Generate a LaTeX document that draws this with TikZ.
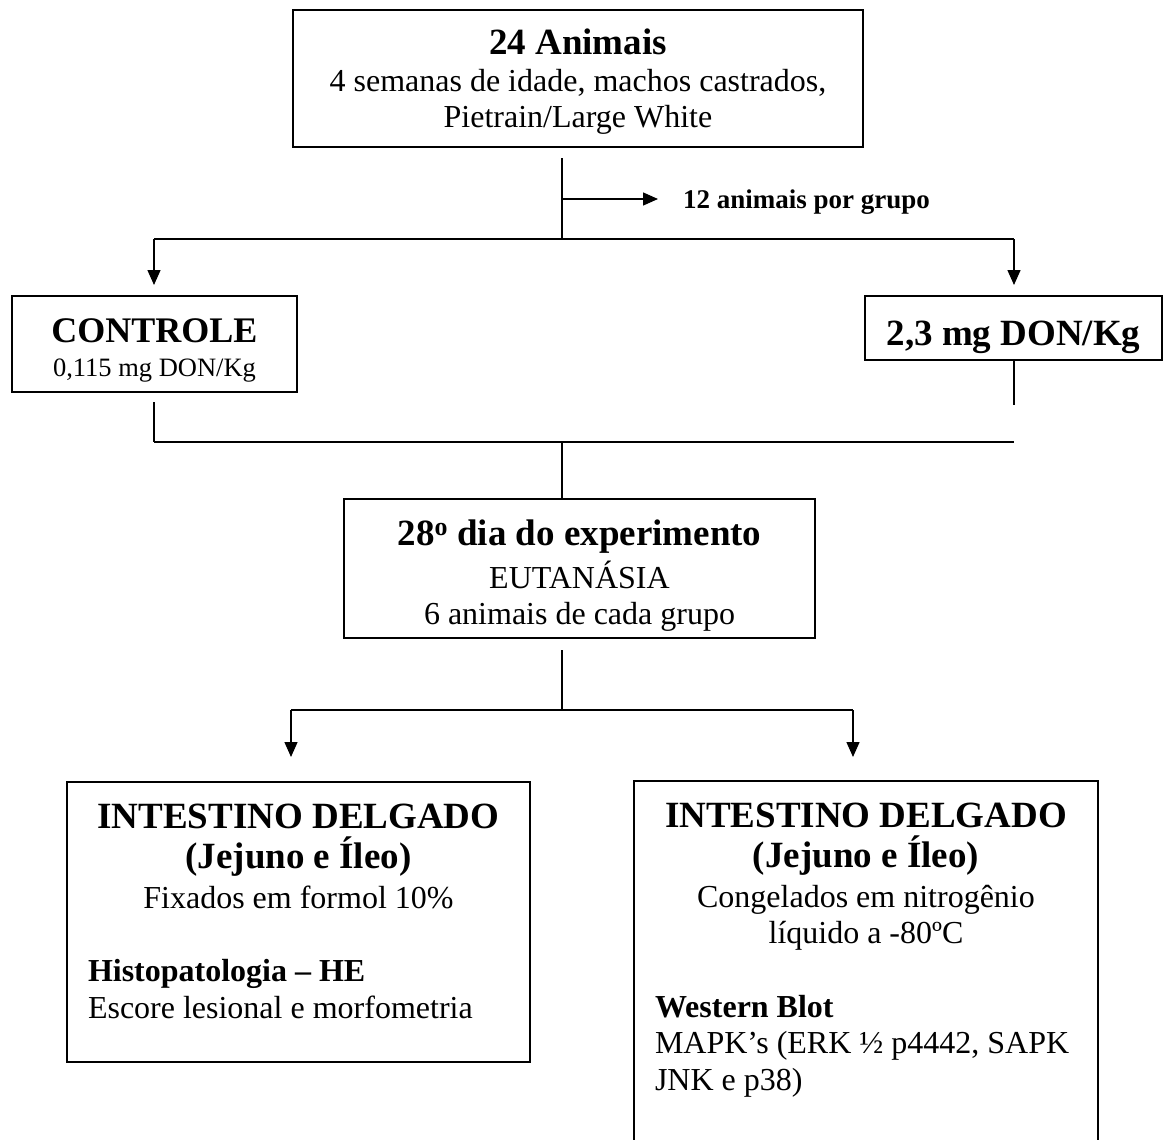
\documentclass[tikz,border=0pt]{standalone}
\usepackage{fontspec}
\setmainfont{Liberation Serif}
\usetikzlibrary{arrows.meta}
\newcommand\hdf{\fontsize{37}{40}\selectfont\bfseries}
\newcommand\bdf{\fontsize{32}{36.5}\selectfont}
\newcommand\smf{\fontsize{26.5}{34}\selectfont}
\newcommand\lbf{\fontsize{27}{30}\selectfont\bfseries}
\newcommand\fst[1]{\rule{0pt}{#1pt}}
\begin{document}
\begin{tikzpicture}[x=1pt,y=-1pt,
  box/.style={draw,line width=1.8pt,inner sep=0pt,outer sep=0pt,anchor=north west},
  conn/.style={line width=1.4pt},
  arr/.style={conn,-{Triangle[length=15pt,width=13pt]}}]
\path[fill=white,use as bounding box] (0,0) rectangle (1163,1140);

% boxes
\node[box] (top) at (293,10) {\parbox[t][137pt][t]{570pt}{\centering
  {\hdf\fst{45}24 Animais\par}
  {\bdf 4 semanas de idade, machos castrados,\par}
  {\bdf Pietrain/Large White\par}}};

\node[box] (ctrl) at (12,296) {\parbox[t][96pt][t]{285pt}{\centering
  {\fontsize{36}{40}\selectfont\bfseries\fst{46}CONTROLE\par}
  {\smf 0,115 mg DON/Kg\par}}};

\node[box] (don) at (865,296) {\parbox[t][64pt][t]{297pt}{\centering
  {\hdf\fst{49}2,3 mg DON/Kg\par}}};

\node[box] (day) at (344,499) {\parbox[t][139pt][t]{471pt}{\centering
  {\hdf\fst{46}28\textsuperscript{o} dia do experimento\par}
  \vskip6.5pt
  {\bdf EUTANÁSIA\par}
  {\bdf 6 animais de cada grupo\par}}};

\node[box] (il) at (67,782) {\parbox[t][280pt][t]{463pt}{\centering
  {\hdf\fst{46}INTESTINO DELGADO\par}
  {\hdf (Jejuno e Íleo)\par}
  \vskip3.5pt
  {\bdf Fixados em formol 10\%\par}
  \vskip37pt
  \raggedright\leftskip=21pt
  {\bdf\bfseries Histopatologia – HE\par}
  {\bdf Escore lesional e morfometria\par}}};

\node[box] (ir) at (634,781) {\parbox[t][364pt][t]{464pt}{\centering
  {\hdf\fst{46}INTESTINO DELGADO\par}
  {\hdf (Jejuno e Íleo)\par}
  \vskip3.5pt
  {\bdf Congelados em nitrogênio\par}
  {\bdf líquido a -80ºC\par}
  \vskip37pt
  \raggedright\leftskip=21pt
  {\bdf\bfseries Western Blot\par}
  {\bdf MAPK’s (ERK ½ p4442, SAPK\par}
  {\bdf JNK e p38)\par}}};

\node[anchor=base west,inner sep=0pt,font=\lbf] (lbl) at (683,208) {12 animais por grupo};

% connectors
\coordinate (a0) at (562,158);
\coordinate (a1) at (562,199);
\coordinate (a2) at (562,239);
\coordinate (aL) at (154,239);
\coordinate (aR) at (1014,239);
\draw[conn] (a0) -- (a2);
\draw[arr] (a1) -- ([xshift=-25pt]lbl.base west |- a1);
\draw[conn] (aL) -- (aR);
\draw[arr,shorten >=11pt] (aL) -- (aL |- ctrl.north);
\draw[arr,shorten >=11pt] (aR) -- (aR |- don.north);

\coordinate (b1) at (154,442);
\coordinate (b2) at (1014,442);
\coordinate (bR) at (1014,405);
\coordinate (bm) at (562,442);
\draw[conn,shorten <=10pt] (ctrl.south -| b1) -- (b1);
\draw[conn] (don.south -| bR) -- (bR);
\draw[conn] (b1) -- (b2);
\draw[conn] (bm) -- (bm |- day.north);

\coordinate (c1) at (562,710);
\coordinate (cL) at (291,710);
\coordinate (cR) at (853,710);
\draw[conn,shorten <=12pt] (day.south -| c1) -- (c1);
\draw[conn] (cL) -- (cR);
\draw[arr,shorten >=25pt] (cL) -- (cL |- il.north);
\draw[arr,shorten >=24pt] (cR) -- (cR |- ir.north);
\end{tikzpicture}
\end{document}
